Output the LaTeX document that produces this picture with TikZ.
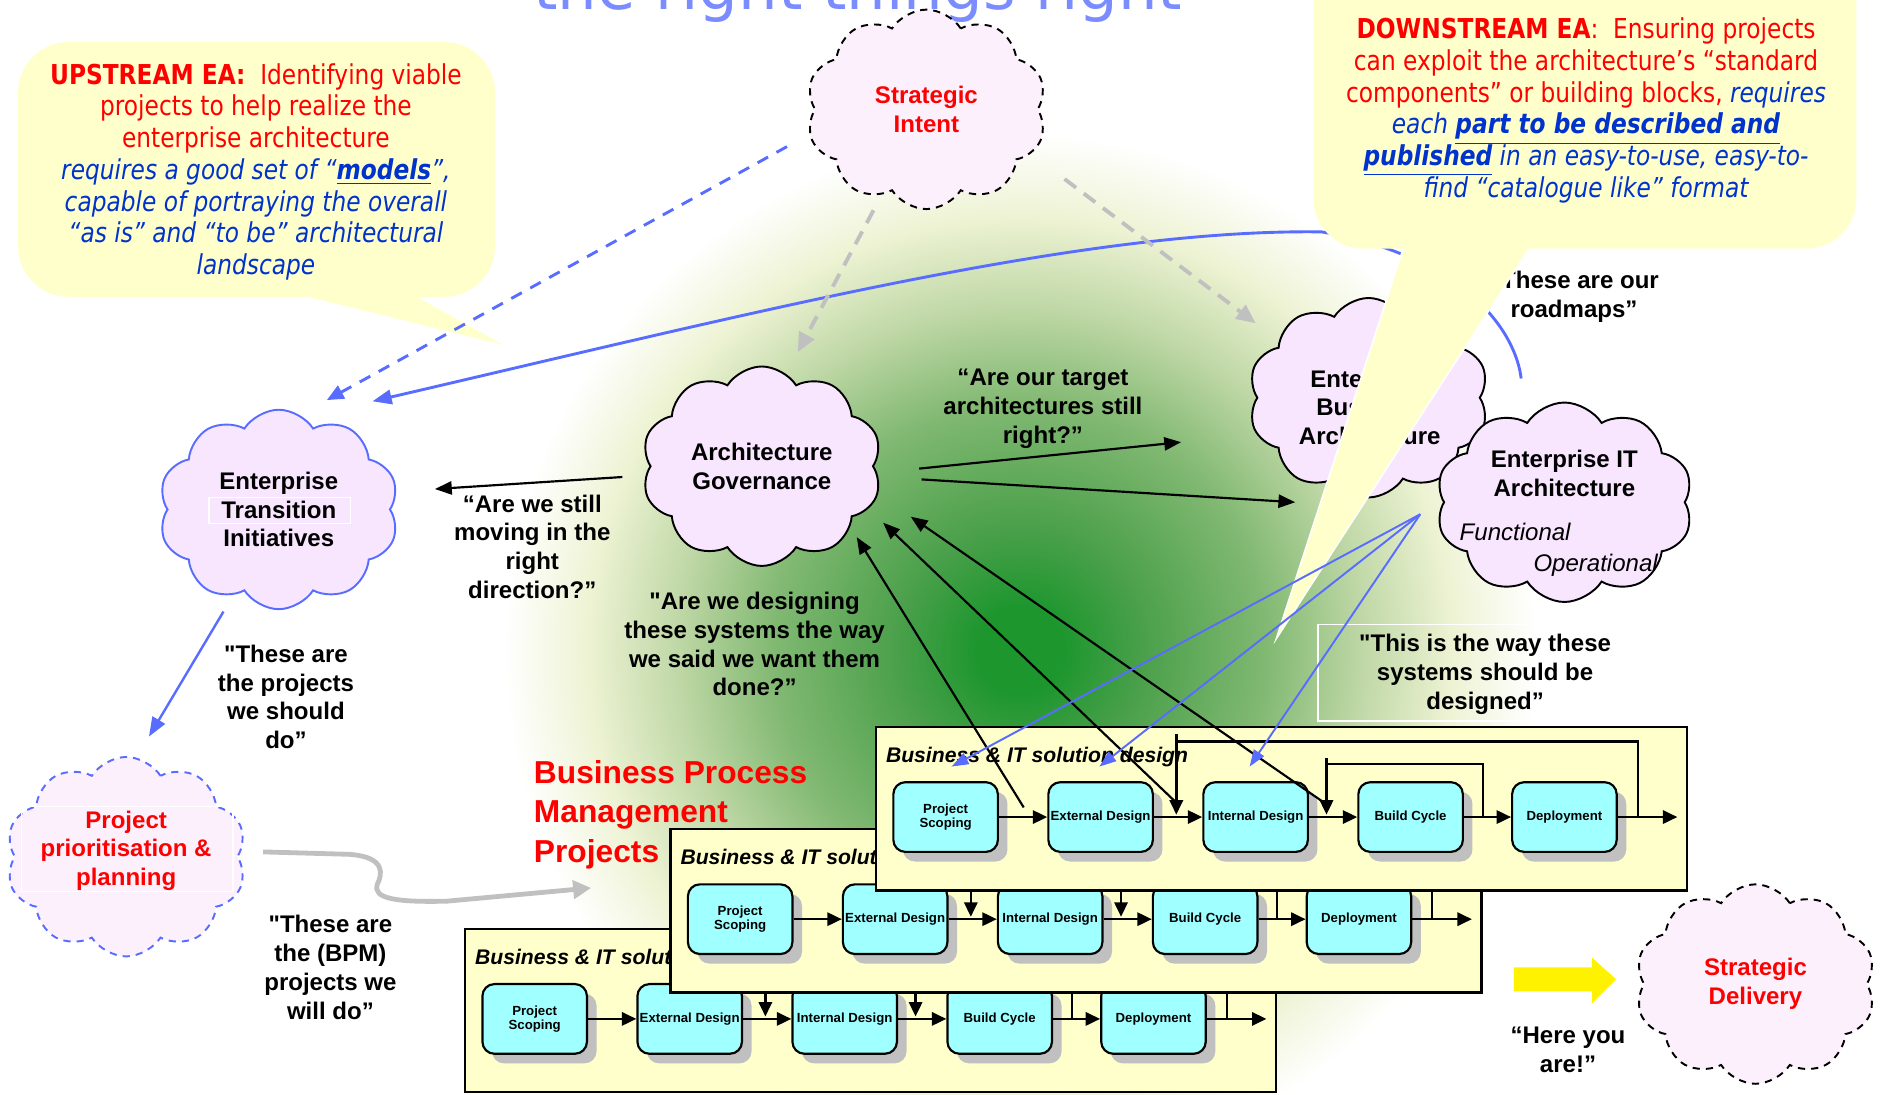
\documentclass[tikz,border=0pt]{standalone}
\usepackage{fontspec}
\setmainfont{Liberation Sans}[Ligatures=TeXOff]
\newfontfamily\tah{DejaVu Sans}[FakeStretch=0.85]
\newfontfamily\titlefont{DejaVu Sans}
\usetikzlibrary{arrows.meta,shapes.symbols,shadows,calc}

\definecolor{bubble}{RGB}{255,255,204}
\definecolor{textblue}{RGB}{0,51,204}
\definecolor{lineblue}{RGB}{88,108,255}
\definecolor{cloudfill}{RGB}{248,230,255}
\definecolor{cloudpale}{RGB}{252,240,252}
\definecolor{procfill}{RGB}{160,255,255}
\definecolor{shadowgray}{RGB}{192,192,192}
\definecolor{titleblue}{RGB}{122,140,255}
\definecolor{gA}{RGB}{28,150,45}
\definecolor{gB}{RGB}{75,160,75}
\definecolor{gC}{RGB}{130,185,115}
\definecolor{gD}{RGB}{190,215,165}
\definecolor{gE}{RGB}{238,243,212}
\pgfdeclareradialshading{glow}{\pgfpointorigin}{color(0bp)=(gA); color(2bp)=(gA); color(6bp)=(gB); color(12bp)=(gC); color(16.5bp)=(gD); color(21bp)=(gE); color(25bp)=(white); color(50bp)=(white)}

\tikzset{
  cloudbase/.style={cloud, cloud puffs=10, cloud puff arc=115, cloud ignores aspect,
     minimum width=100pt, minimum height=83pt, align=center, inner sep=0pt,
     font=\bfseries\fontsize{10}{12}\selectfont, line width=0.8pt},
  cloudA/.style={cloudbase, draw=black, fill=cloudfill},
  cloudB/.style={cloudbase, draw=lineblue, fill=cloudfill},
  cloudD/.style={cloudbase, draw=black, fill=cloudpale, dash pattern=on 3pt off 2.5pt, text=red},
  cloudE/.style={cloudbase, draw=lineblue, fill=cloudpale, dash pattern=on 3pt off 2.5pt, text=red},
  qtext/.style={align=center, inner sep=0pt, font=\bfseries\fontsize{10}{12}\selectfont},
  btext/.style={align=center, inner sep=0pt, font=\tah\fontsize{11.4}{13.2}\selectfont},
  garrow/.style={line width=0.9pt, -{Triangle[length=7pt,width=5.5pt]}},
  barrow/.style={lineblue, line width=0.8pt, -{Triangle[length=7pt,width=5pt]}},
  gdash/.style={shadowgray, line width=1.6pt, dash pattern=on 6pt off 4pt, -{Triangle[length=8pt,width=7pt]}},
  bdash/.style={lineblue, line width=1.2pt, dash pattern=on 5pt off 4pt, -{Triangle[length=7pt,width=6pt]}},
  flow/.style={line width=1pt, -{Triangle[length=6pt,width=5.5pt]}},
  fb/.style={line width=1pt},
  pbox/.style={draw, line width=1pt, fill=bubble, minimum width=337.5pt, minimum height=68pt, inner sep=0pt},
  ptitle/.style={inner sep=0pt, font=\bfseries\itshape\fontsize{8.8}{10}\selectfont},
  proc/.style={draw, line width=0.9pt, fill=procfill, rounded corners=5pt, minimum width=43.5pt,
     minimum height=29pt, align=center, inner sep=0pt, font=\bfseries\fontsize{5.5}{6}\selectfont,
     drop shadow={shadow xshift=4pt, shadow yshift=-4pt, fill=shadowgray, opacity=1}},
}

\newcommand\projbox[3]{%
\begin{scope}[shift={(#2,#3)}]
  \node[pbox, anchor=north west] (#1box) at (728,604) {};
  \node[ptitle, anchor=west] (#1title) at (737,630) {Business \& IT solution design};
  \node[proc] (#1ps) at (787,680) {Project\\Scoping};
  \node[proc] (#1ed) at (916,680) {External Design};
  \node[proc] (#1id) at (1045,680) {Internal Design};
  \node[proc] (#1bc) at (1174,680) {Build Cycle};
  \node[proc] (#1dp) at (1302,680) {Deployment};
  \coordinate (#1out) at (1396,680);
  \coordinate (#1fa) at (1363,680);
  \coordinate (#1fh) at (979,617);
  \coordinate (#1fb) at (979,611);
  \coordinate (#1fc) at (979,678);
  \coordinate (#1ga) at (1234,680);
  \coordinate (#1gh) at (1104,636);
  \coordinate (#1gb) at (1104,631);
  \coordinate (#1gc) at (1104,678);
  \draw[flow] (#1ps) -- (#1ed);
  \draw[flow] (#1ed) -- (#1id);
  \draw[flow] (#1id) -- (#1bc);
  \draw[flow] (#1bc) -- (#1dp);
  \draw[flow] (#1dp) -- (#1out);
  \draw[fb] (#1fa) |- (#1fh);
  \draw[flow] (#1fb) -- (#1fc);
  \draw[fb] (#1ga) |- (#1gh);
  \draw[flow] (#1gb) -- (#1gc);
\end{scope}}

\begin{document}
\begin{tikzpicture}[x=0.5pt,y=-0.5pt]
\useasboundingbox (0,0) rectangle (1568,911);

% green glow
\shade[shading=glow] (849,541) circle[radius=430];

% Enterprise Business Architecture (partly hidden by the callout)
\node[cloudA] (eba) at (1139,331) {};
\node[qtext] (ebat) at (1140,339) {Enterprise\\Business\\Architecture};

% blue roadmap curve
\coordinate (rc0) at (1266,315);
\coordinate (rc1) at (1100,193);
\coordinate (rc2) at (310,334);
\draw[lineblue, line width=1.2pt, -{Triangle[length=8pt,width=6pt]}]
  (rc0) .. controls (1262,280) and (1225,215) .. (rc1) .. controls (900,190) and (620,262) .. (rc2);
\node[qtext] (roadmaps) at (1310,247) {“These are our\\roadmaps”};

% downstream callout
\filldraw[fill=bubble, draw=white, line width=0.6pt] (1170,200) -- (1062,532) -- (1277,200) -- cycle;
\fill[bubble, rounded corners=21pt] (1093,-40) rectangle (1545,207);
\node[btext] (down) at (1320,92) {%
\textcolor{red}{\textbf{DOWNSTREAM EA}:\ \ Ensuring projects}\\
\textcolor{red}{can exploit the architecture’s “standard}\\
\textcolor{red}{components” or building blocks,} \textcolor{textblue}{\itshape requires}\\
\textcolor{textblue}{\itshape each \textbf{\underline{part to be described and}}}\\
\textcolor{textblue}{\itshape \textbf{\underline{published}} in an easy-to-use, easy-to-}\\
\textcolor{textblue}{\itshape find “catalogue like” format}};

% upstream callout
\fill[bubble, rounded corners=21pt] (15,35) rectangle (412,247);
\fill[bubble] (248,245) -- (419,287) -- (343,245) -- cycle;
\node[btext] (up) at (213,143) {%
\textcolor{red}{\textbf{UPSTREAM EA:}\ \ Identifying viable}\\
\textcolor{red}{projects to help realize the}\\
\textcolor{red}{enterprise architecture}\\
\textcolor{textblue}{\itshape requires a good set of “\textbf{\underline{models}}”,}\\
\textcolor{textblue}{\itshape capable of portraying the overall}\\
\textcolor{textblue}{\itshape “as is” and “to be” architectural}\\
\textcolor{textblue}{\itshape landscape}};

% title (cut off at the top, as in the reference)
\node[anchor=base, inner sep=0pt, text=titleblue, font=\titlefont\fontsize{26}{30}\selectfont] (title) at (714,8) {the right things right};

% Strategic Intent
\node[cloudD] (si) at (771,91) {Strategic\\Intent};

% dashed connectors
\coordinate (bd0) at (655,122);
\coordinate (bd1) at (272,333);
\draw[bdash] (bd0) -- (bd1);
\coordinate (gd0) at (727,175);
\coordinate (gd1) at (664,293);
\coordinate (gd2) at (886,149);
\coordinate (gd3) at (1045,269);
\draw[gdash] (gd0) -- (gd1);
\draw[gdash] (gd2) -- (gd3);

% clouds
\node[cloudB] (eti) at (232,424) {Enterprise\\Transition\\Initiatives};
\draw[white, line width=0.5pt] (174,414) rectangle (292,436);
\node[cloudA] (ag) at (634,388) {Architecture\\Governance};
\node[cloudA, minimum width=107pt] (eit) at (1302,418) {};
\node[qtext] (eitt) at (1302,394) {Enterprise IT\\Architecture};
\node[anchor=base, inner sep=0pt, font=\itshape\fontsize{10}{12}\selectfont] (func) at (1261,450) {Functional};
\node[anchor=base, inner sep=0pt, font=\itshape\fontsize{10}{12}\selectfont] (oper) at (1328,476) {Operational};
\node[cloudE] (ppp) at (105,713) {};
\draw[white, line width=0.5pt] (18,671) rectangle (194,742);
\node[qtext, text=red] (pppt) at (105,708) {Project\\prioritisation \&\\planning};
\node[cloudD] (sd) at (1461,819) {Strategic\\Delivery};

% texts
\node[qtext] (q1) at (443,455) {“Are we still\\moving in the\\right\\direction?”};
\node[qtext] (q2) at (238,580) {"These are\\the projects\\we should\\do”};
\node[qtext] (q3) at (275,805) {"These are\\the (BPM)\\projects we\\will do”};
\node[qtext] (q4) at (868,340) {“Are our target\\architectures still\\right?”};
\node[qtext] (q5) at (628,536) {"Are we designing\\these systems the way\\we said we want them\\done?”};
\draw[white, line width=0.5pt] (1097,520) rectangle (1380,600);
\node[qtext] (q6) at (1236,561) {"This is the way these\\systems should be\\designed”};
\node[qtext] (q7) at (1305,874) {“Here you\\are!”};
\node[anchor=west, align=left, inner sep=0pt, text=red, font=\bfseries\fontsize{13.2}{16.3}\selectfont] (bpm) at (444,678) {Business Process\\Management\\Projects};

% arrows around governance
\coordinate (a1s) at (518,397);
\coordinate (a1e) at (362,407);
\draw[garrow] (a1s) -- (a1e);
\coordinate (a2s) at (765,390);
\coordinate (a2e) at (983,368);
\draw[garrow] (a2s) -- (a2e);
\coordinate (a3s) at (767,399);
\coordinate (a3e) at (1078,418);
\draw[garrow] (a3s) -- (a3e);

% ETI -> project prioritisation
\coordinate (e1s) at (186,509);
\coordinate (e1e) at (124,613);
\draw[lineblue, line width=1pt, -{Triangle[length=8pt,width=6pt]}] (e1s) -- (e1e);

% grey wavy arrow
\coordinate (w0) at (219,709);
\coordinate (w1) at (492,739);
\draw[shadowgray, line width=2pt, -{Triangle[length=7.5pt,width=7.5pt]}]
  (w0) -- (290,711) .. controls (322,713) and (318,728) .. (314,736)
  .. controls (310,748) and (330,751) .. (372,750) -- (w1);

% project boxes
\projbox{C}{-342}{168}
\projbox{B}{-171}{85}
\projbox{A}{0}{0}

% feedback arrows to governance
\coordinate (s1) at (852,672);
\coordinate (s2) at (979,668);
\coordinate (s3) at (1102,668);
\coordinate (t1) at (713,447);
\coordinate (t2) at (735,435);
\coordinate (t3) at (758,430);
\draw[garrow] (s1) -- (t1);
\draw[garrow] (s2) -- (t2);
\draw[garrow] (s3) -- (t3);

% blue design lines from Enterprise IT Architecture
\coordinate (eitsrc) at (1182,428);
\coordinate (u1) at (792,638);
\coordinate (u2) at (915,638);
\coordinate (u3) at (1040,638);
\draw[barrow] (eitsrc) -- (u1);
\draw[barrow] (eitsrc) -- (u2);
\draw[barrow] (eitsrc) -- (u3);

% yellow arrow
\fill[yellow] (1260,805) -- (1325,805) -- (1325,797) -- (1345,815) -- (1325,835) -- (1325,825) -- (1260,825) -- cycle;
\end{tikzpicture}
\end{document}
